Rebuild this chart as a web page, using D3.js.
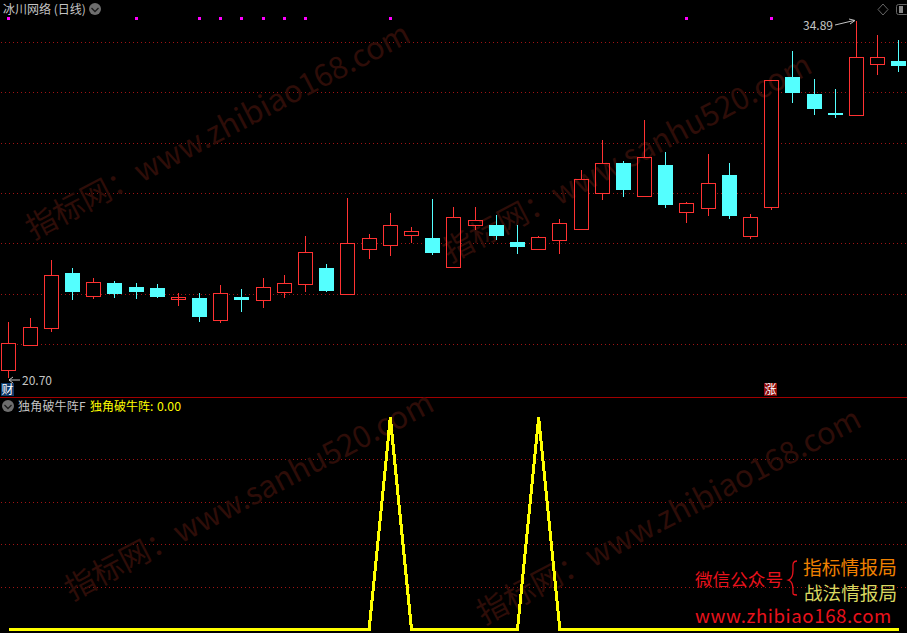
<!DOCTYPE html>
<html><head><meta charset="utf-8">
<script src="https://cdn.jsdelivr.net/npm/d3@7/dist/d3.min.js"></script>
<style>html,body{margin:0;padding:0;background:#000;overflow:hidden}svg{display:block}text{font-family:"Noto Sans CJK SC","Noto Sans",sans-serif}</style>
</head><body><svg id="c" width="907" height="633"></svg>
<script>
const opens  = [21.00,21.99,22.70,24.88,23.94,24.48,24.32,24.28,23.86,23.88,23.00,23.92,23.78,24.10,24.43,25.08,24.03,25.84,25.96,26.40,26.27,25.09,26.76,26.79,26.11,25.84,26.16,26.60,28.03,29.25,27.91,29.17,27.31,27.43,28.77,26.32,27.51,32.67,31.99,31.24,31.13,33.16,33.31];
const highs  = [22.93,23.09,25.40,25.07,24.68,24.56,24.48,24.44,24.08,24.08,24.40,24.24,24.68,24.80,26.35,25.24,27.86,26.43,27.26,26.71,27.82,27.50,27.50,27.18,26.79,26.35,27.03,28.97,30.17,29.33,30.96,29.69,27.70,29.61,29.25,27.22,32.54,33.70,32.59,32.19,34.89,34.34,34.14];
const lows   = [20.70,21.99,22.53,23.81,23.85,23.88,23.85,23.88,23.57,22.93,22.89,23.33,23.49,23.88,24.12,24.12,24.03,25.43,25.55,26.07,25.59,25.09,26.59,26.19,25.63,25.84,25.63,26.60,27.78,27.90,27.91,27.46,26.87,27.14,27.03,26.23,27.38,31.64,31.16,31.04,31.13,32.75,32.87];
const closes = [22.08,22.72,24.79,24.13,24.51,24.04,24.13,23.92,23.92,23.13,24.07,23.81,24.31,24.47,25.70,24.16,26.06,26.26,26.77,26.54,25.67,27.09,26.97,26.35,25.91,26.30,26.85,28.60,29.24,28.18,29.48,27.58,27.65,28.44,27.14,27.09,32.54,32.03,31.40,31.20,33.45,33.45,33.11];
const signalDays = [0,6,9,10,11,12,13,14,18,32,36];
const indicator = [0,0,0,0,0,0,0,0,0,0,0,0,0,0,0,0,0,0,1,0,0,0,0,0,0,1,0,0,0,0,0,0,0,0,0,0,0,0,0,0,0,0,0];
const priceGrid = [34.04,32.03,30.03,28.02,26.03,24.02,22.02];
const indicatorGrid = [0.8,0.6,0.4,0.2];
const title = "冰川网络 (日线)";
const paneName = "独角破牛阵F";
const seriesName = "独角破牛阵:";
const seriesValue = "0.00";
const lowLabel = "20.70", highLabel = "34.89";
const marks = [
 {t:"指标网：www.zhibiao168.com",x:33,y:240},
 {t:"指标网：www.sanhu520.com",x:450,y:263},
 {t:"指标网：www.sanhu520.com",x:72,y:601},
 {t:"指标网：www.zhibiao168.com",x:484,y:625}
];

const days = d3.range(opens.length);
const svg = d3.select("#c");
const W=907,H=633;
svg.append("rect").attr("width",W).attr("height",H).attr("fill","#000");
const x = d3.scaleLinear().domain([0,42]).range([8.9,898.88]);
const y = d3.scaleLinear().domain([20.70,34.89]).range([378,21]);
const y2 = d3.scaleLinear().domain([0,1]).range([629.5,417.5]);
const RED="#ff3232",CY="#54ffff",GRID="#a01414";
const px = i=>Math.floor(x(i))+.5;
const isUp = i=>closes[i]>=opens[i];
const col = i=>isUp(i)?RED:CY;
const bw=14;

// grids
const gridG = svg.append("g").attr("stroke",GRID).attr("stroke-width",1).attr("stroke-dasharray","1 3").attr("shape-rendering","crispEdges");
gridG.selectAll(".a").data(priceGrid).join("line").attr("x1",1).attr("x2",W).attr("y1",d=>Math.floor(y(d))+.5).attr("y2",d=>Math.floor(y(d))+.5);
gridG.selectAll(".b").data(indicatorGrid).join("line").attr("x1",1).attr("x2",W).attr("y1",d=>Math.floor(y2(d))+.5).attr("y2",d=>Math.floor(y2(d))+.5);
svg.append("line").attr("x1",0).attr("x2",W).attr("y1",397.5).attr("y2",397.5).attr("stroke","#a00000").attr("shape-rendering","crispEdges");

const upDays = days.filter(isUp), downDays = days.filter(i=>!isUp(i));
const bodyTop = i=>Math.round(y(closes[i]))+.5;
const bodyH = i=>Math.max(1,Math.round(y(opens[i])-y(closes[i])));

// hollow body interiors sit under the watermark
svg.append("g").selectAll("rect").data(upDays).join("rect")
 .attr("x",i=>px(i)-bw/2).attr("width",bw).attr("y",bodyTop).attr("height",bodyH).attr("fill","#000").attr("shape-rendering","crispEdges");

// watermarks
svg.append("g").selectAll("text").data(marks).join("text")
 .attr("transform",d=>`translate(${d.x},${d.y}) rotate(-27.7)`)
 .attr("font-size",30.6).attr("fill","#2e0d08").text(d=>d.t);

// candles
const cg = svg.append("g").attr("shape-rendering","crispEdges");
cg.selectAll(".w1").data(days).join("line").attr("x1",px).attr("x2",px).attr("y1",i=>y(highs[i])).attr("y2",i=>y(Math.max(opens[i],closes[i]))).attr("stroke",col).attr("stroke-width",1);
cg.selectAll(".w2").data(days).join("line").attr("x1",px).attr("x2",px).attr("y1",i=>y(Math.min(opens[i],closes[i]))).attr("y2",i=>y(lows[i])).attr("stroke",col).attr("stroke-width",1);
cg.selectAll(".u").data(upDays).join("rect")
 .attr("x",i=>px(i)-bw/2).attr("width",bw).attr("y",bodyTop).attr("height",bodyH)
 .attr("fill","none").attr("stroke",RED).attr("stroke-width",1);
cg.selectAll(".d").data(downDays).join("rect")
 .attr("x",i=>px(i)-bw/2-.5).attr("width",bw+1)
 .attr("y",i=>Math.round(y(opens[i]))).attr("height",i=>Math.max(2,Math.round(y(closes[i])-y(opens[i]))))
 .attr("fill",CY);

// signal markers
svg.append("g").selectAll("rect").data(signalDays).join("rect")
 .attr("x",d=>Math.floor(x(d))-1).attr("y",17).attr("width",3).attr("height",3).attr("fill","#ff00ff");

// indicator
svg.append("path").datum(days).attr("fill","none").attr("stroke","#ffff00").attr("stroke-width",3).attr("shape-rendering","crispEdges")
 .attr("d",d3.line().x(i=>x(i)).y(i=>y2(indicator[i])));

// titles
svg.append("text").attr("x",3).attr("y",14).attr("font-size",12).attr("fill","#c4c4c4").text(title);
function chevron(cx,cy){
 svg.append("circle").attr("cx",cx).attr("cy",cy).attr("r",6).attr("fill","#6e6e6e");
 svg.append("path").attr("d",d3.line()([[cx-3.5,cy-1],[cx,cy+2.5],[cx+3.5,cy-1]])).attr("fill","none").attr("stroke","#1c1c1c").attr("stroke-width",1.3);
}
chevron(95,9); chevron(8,406);
svg.append("text").attr("x",18).attr("y",411).attr("font-size",12).attr("letter-spacing",.2).attr("fill","#c4c4c4").text(paneName);
svg.append("text").attr("x",90).attr("y",411).attr("font-size",12).attr("fill","#ffff00").text(seriesName);
function num(t,x0,y0,c){
 svg.append("text").attr("x",x0).attr("y",y0).attr("font-size",12).attr("textLength",t.length*6).attr("lengthAdjust","spacingAndGlyphs").attr("fill",c).text(t);
}
num(seriesValue,157,411,"#ffff00");

// high & low labels
num(lowLabel,22,385,"#c4c4c4");
svg.append("path").attr("d","M20 380H9M13 377L9 380L13 383").attr("fill","none").attr("stroke","#c4c4c4");
num(highLabel,803,30,"#c4c4c4");
svg.append("path").attr("d","M835 25L854 20.5M849 19L855 20.5L850 24").attr("fill","none").attr("stroke","#c4c4c4");

// badges
svg.append("rect").attr("x",1).attr("y",383).attr("width",13).attr("height",13).attr("fill","#0f3a6a");
svg.append("text").attr("x",1.5).attr("y",394).attr("font-size",12).attr("fill","#fff").text("财");
svg.append("rect").attr("x",764).attr("y",383).attr("width",13).attr("height",13).attr("fill","#8b0a0a");
svg.append("text").attr("x",764.5).attr("y",394).attr("font-size",12).attr("fill","#fff").text("涨");

// top right icons
svg.append("path").attr("d","M883 4L888 9.5L883 15L878 9.5Z").attr("fill","none").attr("stroke","#666");
svg.append("rect").attr("x",896.5).attr("y",4.5).attr("width",12).attr("height",10).attr("rx",2).attr("fill","none").attr("stroke","#666");
svg.append("rect").attr("x",899).attr("y",6).attr("width",4).attr("height",7).attr("fill","#888");

// footer promo
svg.append("text").attr("x",695).attr("y",586).attr("font-size",17.6).attr("fill","#e8121c").text("微信公众号");
svg.append("path").attr("d","M797 561C792 561 793 565 793 570C793 575 792 579 788.5 580C792 581 793 585 793 590C793 594 792 595 797 595").attr("fill","none").attr("stroke","#e8121c").attr("stroke-width",1.3);
svg.append("text").attr("x",803).attr("y",574.5).attr("font-size",18.8).attr("fill","#f08000").text("指标情报局");
svg.append("text").attr("x",804).attr("y",599.5).attr("font-size",18.6).attr("fill","#d8d860").text("战法情报局");
svg.append("text").attr("x",695).attr("y",623).attr("font-size",18.6).attr("letter-spacing",.6).attr("fill","#e8121c").text("www.zhibiao168.com");
</script></body></html>
